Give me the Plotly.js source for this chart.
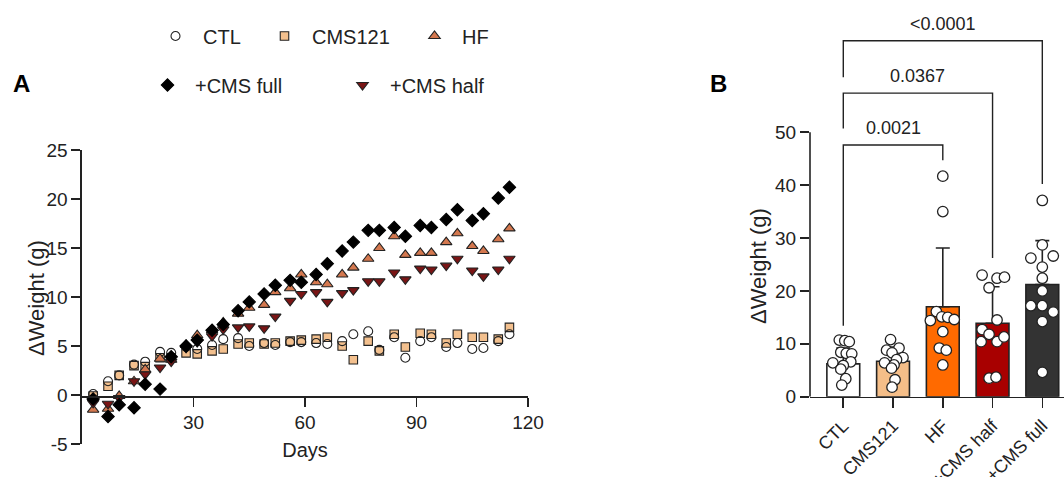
<!DOCTYPE html>
<html>
<head>
<meta charset="utf-8">
<script src="https://cdn.plot.ly/plotly-3.0.1.min.js"></script>
<style>
  html, body { margin: 0; padding: 0; background: #fff; }
  #chart { width: 1064px; height: 477px; }
</style>
</head>
<body>
<div id="chart"></div>
<script>
// ---------- Panel A data (time course) ----------
const days = [3,7,10,14,17,21,24,28,31,35,38,42,45,49,52,56,59,63,66,70,73,77,80,84,87,91,94,98,101,105,108,112,115];
const ctlWeight = [0.1,1.4,2.0,3.1,3.4,4.4,4.3,4.9,4.7,5.1,5.7,5.8,5.0,5.3,5.1,5.4,5.4,5.3,5.2,5.5,6.2,6.5,4.6,5.9,3.8,5.5,5.9,4.9,5.3,4.7,4.8,5.5,6.2];
const cms121Weight = [-0.1,0.9,2.0,3.0,2.9,3.8,3.8,4.3,4.2,4.5,4.7,5.2,5.3,5.2,5.3,5.5,5.6,5.7,5.9,5.0,3.6,5.5,4.5,6.2,4.9,6.3,6.2,5.3,6.2,5.9,5.9,5.7,6.9];
const hfWeight = [-1.5,-1.4,-0.1,1.4,2.6,3.7,3.6,5.1,6.1,6.6,7.4,8.3,8.9,9.2,10.5,10.9,12.3,11.5,11.3,12.3,13.0,13.9,15.0,16.2,14.3,14.5,14.5,15.6,16.5,15.2,14.7,15.9,17.0];
const cmsHalfWeight = [-0.8,-0.9,-0.3,1.4,2.1,2.8,3.4,4.8,5.4,6.0,6.7,6.9,7.0,6.8,8.0,9.6,10.3,10.5,9.5,10.4,10.7,11.6,11.6,12.5,11.8,12.9,12.8,13.2,13.9,12.7,12.1,12.8,13.9];
const cmsFullWeight = [-0.4,-2.2,-1.0,-1.3,1.1,0.6,3.9,5.0,5.6,6.6,7.2,8.6,9.5,10.3,11.2,11.7,11.5,12.3,13.4,14.7,15.6,16.8,16.8,17.1,16.2,17.3,17.1,17.9,18.9,17.8,18.5,20.1,21.2];
const dayTicks = [30,60,90,120];
const weightTicksA = [-5,0,5,10,15,20,25];

// ---------- Panel B data (final weight gain) ----------
const groups = ['CTL','CMS121','HF','+CMS half','+CMS full'];
const groupMeans = [6.2,6.7,17.0,13.9,21.2];
const groupSD = [3.0,2.7,11.1,6.9,8.3];
const ctlDots = [10.7,10.6,10.4,8.4,8.2,8.1,6.6,6.4,5.9,5.2,3.4,2.2];
const ctlDotJitter = [-0.08,0.03,0.12,-0.05,0.06,0.17,0.15,-0.21,0,-0.05,0.05,-0.03];
const cms121Dots = [10.8,9.2,8.8,8.3,7.4,7.0,6.4,6.0,5.4,3.2,1.8];
const cms121DotJitter = [-0.05,0.12,-0.13,-0.02,0.2,0.07,-0.17,0.02,-0.03,0.04,-0.02];
const hfDots = [41.7,35.0,16.1,14.4,15.1,15.0,14.6,12.3,9.2,8.8,6.0];
const hfDotJitter = [0,0,-0.13,-0.25,-0.02,0.1,0.23,0,-0.07,0.07,0];
const halfDots = [23.0,22.4,22.6,20.6,14.5,12.7,11.8,10.4,10.4,11.3,3.5,3.7];
const halfDotJitter = [-0.21,0.09,0.24,-0.07,0.09,-0.21,-0.07,-0.23,0.09,0.23,-0.07,0.07];
const fullDots = [37.1,28.7,26.2,26.6,24.5,22.4,20.0,17.2,17.2,16.0,14.2,4.6];
const fullDotJitter = [0,0,-0.23,0.22,0,0,0,-0.23,0,0.22,0,0];
const weightTicksB = [0,10,20,30,40,50];
// comparisons: group a, group b, p label, bracket level, left leg end, right leg end
const compA = [0,0,0];
const compB = [2,3,4];
const compP = ['0.0021','0.0367','<0.0001'];
const compLevel = [47.6,57.4,67.3];
const compLeftEnd = [13.4,50.7,60.4];
const compRightEnd = [44.7,26.2,40.2];

// ---------- styling ----------
const FONT = 'Liberation Sans, Arial, sans-serif';
const INK = '#222222';
const colCMS121 = '#F3C08E';
const colHFtri = '#D4784F';
const colHalfTri = '#7A1515';
const barColors = ['#FFFFFF','#F5BE88','#FF6A00','#A80000','#333333'];

const W = 1064, H = 477;
const px = x => x / W;
const py = y => (H - y) / H;

const traces = [];
function seriesTrace(name, y, symbol, fill, lineColor, size, legendId) {
  return {
    type: 'scatter', mode: 'markers', name: name, x: days, y: y,
    xaxis: 'x', yaxis: 'y', legend: legendId, cliponaxis: false,
    marker: { symbol: symbol, size: size, color: fill, line: { color: lineColor, width: 1.1 } }
  };
}
traces.push(seriesTrace('CMS121', cms121Weight, 'square', colCMS121, INK, 8.5, 'legend2'));
traces.push(seriesTrace('CTL', ctlWeight, 'circle-open', INK, INK, 9, 'legend'));
traces.push(seriesTrace('HF', hfWeight, 'triangle-up', colHFtri, INK, 10, 'legend3'));
traces.push(seriesTrace('+CMS half', cmsHalfWeight, 'triangle-down', colHalfTri, INK, 10, 'legend5'));
traces.push(seriesTrace('+CMS full', cmsFullWeight, 'diamond', '#000000', '#000000', 9.5, 'legend4'));

// Panel B bars
traces.push({
  type: 'bar', x: groups.map((g, i) => i), y: groupMeans, xaxis: 'x2', yaxis: 'y2',
  width: 0.66, showlegend: false,
  marker: { color: barColors, line: { color: INK, width: 1.6 } },
  error_y: { type: 'data', symmetric: false, array: groupSD, arrayminus: groupSD.map(() => 0),
             color: INK, thickness: 1.6, width: 7 }
});
const dotSets = [ctlDots, cms121Dots, hfDots, halfDots, fullDots];
const jitterSets = [ctlDotJitter, cms121DotJitter, hfDotJitter, halfDotJitter, fullDotJitter];
dotSets.forEach((vals, gi) => {
  traces.push({
    type: 'scatter', mode: 'markers', x: vals.map((v, k) => gi + jitterSets[gi][k]), y: vals,
    xaxis: 'x2', yaxis: 'y2', showlegend: false, cliponaxis: false,
    marker: { symbol: 'circle', size: 10.5, color: '#FFFFFF', line: { color: INK, width: 1.3 } }
  });
});

// brackets
const shapes = [{
  type: 'line', xref: 'x2 domain', yref: 'y2', x0: 0, x1: 0, y0: 0, y1: 50,
  line: { color: INK, width: 1.6 }
}];
const annotations = [];
compP.forEach((p, i) => {
  const a = compA[i], b = compB[i], lv = compLevel[i];
  shapes.push({ type: 'path', xref: 'x2', yref: 'y2',
    path: `M ${a} ${compLeftEnd[i]} L ${a} ${lv} L ${b} ${lv} L ${b} ${compRightEnd[i]}`,
    line: { color: INK, width: 1.4 } });
  annotations.push({ xref: 'x2', yref: 'y2', x: (a + b) / 2, y: lv, text: p, showarrow: false,
    yanchor: 'middle', yshift: 17, font: { family: FONT, size: 18, color: INK } });
});
annotations.push({ xref: 'paper', yref: 'paper', x: px(21), y: py(84), text: '<b>A</b>', showarrow: false,
  xanchor: 'center', yanchor: 'middle', font: { family: FONT, size: 24, color: '#000' } });
annotations.push({ xref: 'paper', yref: 'paper', x: px(718), y: py(84), text: '<b>B</b>', showarrow: false,
  xanchor: 'center', yanchor: 'middle', font: { family: FONT, size: 24, color: '#000' } });
// axis titles placed to match the reference
annotations.push({ xref: 'paper', yref: 'paper', x: px(36), y: py(298), text: 'ΔWeight (g)', textangle: -90,
  showarrow: false, xanchor: 'center', yanchor: 'middle', font: { family: FONT, size: 22, color: INK } });
annotations.push({ xref: 'paper', yref: 'paper', x: px(758), y: py(266), text: 'ΔWeight (g)', textangle: -90,
  showarrow: false, xanchor: 'center', yanchor: 'middle', font: { family: FONT, size: 22, color: INK } });

function legendAt(xLeft, yMid) {
  return { x: px(xLeft), y: py(yMid), xanchor: 'left', yanchor: 'middle', orientation: 'h',
    bgcolor: 'rgba(0,0,0,0)', borderwidth: 0, itemwidth: 45,
    font: { family: FONT, size: 20, color: INK } };
}

const axisCommon = {
  showgrid: false, zeroline: false, showline: true, linecolor: INK, linewidth: 1.6,
  ticks: 'outside', tickcolor: INK, tickwidth: 1.6, ticklen: 9,
  tickfont: { family: FONT, size: 19, color: INK }
};

const layout = {
  width: W, height: H, margin: { l: 0, r: 0, t: 0, b: 0 },
  paper_bgcolor: '#FFFFFF', plot_bgcolor: 'rgba(0,0,0,0)',
  font: { family: FONT, color: INK },
  xaxis: Object.assign({}, axisCommon, {
    domain: [px(82), px(528)], range: [0, 120], anchor: 'free', position: py(396),
    tickvals: dayTicks,
    title: { text: 'Days', font: { family: FONT, size: 20, color: INK }, standoff: 10 }
  }),
  yaxis: Object.assign({}, axisCommon, {
    domain: [py(444), py(150)], range: [-5, 25], anchor: 'x',
    tickvals: weightTicksA, ticktext: weightTicksA.map(String)
  }),
  xaxis2: Object.assign({}, axisCommon, {
    domain: [px(810), 1], range: [-0.669, 4.436], anchor: 'y2',
    tickvals: groups.map((g, i) => i), ticktext: groups, tickangle: -45, ticklen: 10,
    tickfont: { family: FONT, size: 18, color: INK }
  }),
  yaxis2: Object.assign({}, axisCommon, {
    domain: [py(396.7), 1], range: [0, 75], anchor: 'x2', showline: false,
    tickvals: weightTicksB, ticktext: weightTicksB.map(String)
  }),
  legend: legendAt(148, 36),
  legend2: legendAt(257, 36),
  legend3: legendAt(407, 36),
  legend4: legendAt(140, 85),
  legend5: legendAt(335, 85),
  shapes: shapes,
  annotations: annotations
};

Plotly.newPlot('chart', traces, layout, { displayModeBar: false, staticPlot: true });
</script>
</body>
</html>
